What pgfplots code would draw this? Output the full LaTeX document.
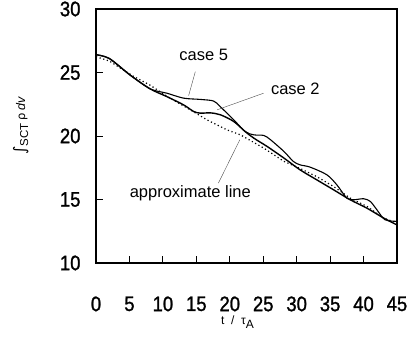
\documentclass[border=0pt]{standalone}
\usepackage{pgfplots}
\pgfplotsset{compat=1.18}
\usepackage{fontspec}
\setmainfont{Liberation Sans}
\newfontfamily\tickfont[FakeStretch=0.88, FakeBold=1.2]{Liberation Sans}
\newfontfamily\dvfont{DejaVu Sans}
\begin{document}
\begin{tikzpicture}
\begin{axis}[
  at={(0,0)}, anchor=south west,
  scale only axis, width=301bp, height=254bp,
  xmin=0, xmax=45, ymin=10, ymax=30,
  xtick={0,5,...,45}, ytick={10,15,...,30},
  xtick pos=bottom, ytick pos=left, tick align=inside,
  major tick length=7bp,
  tick style={line width=0.8pt, black},
  axis line style={line width=1.3pt},
  /pgf/number format/assume math mode=true,
  ticklabel style={font=\tickfont\fontsize{21bp}{21bp}\selectfont},
  xticklabel style={yshift=-30bp},
  yticklabel style={xshift=-12bp},
  xlabel={\fontsize{12bp}{12bp}\selectfont t\ \ /\ \ τ\raisebox{-4bp}{A}},
  xlabel style={at={(axis description cs:0.47,0)}, anchor=north, yshift=-49bp},
  ylabel={{\dvfont\fontsize{16bp}{16bp}\selectfont ∫}\raisebox{-3bp}{\fontsize{11.5bp}{11.5bp}\selectfont SCT}\ {\dvfont\fontsize{11.5bp}{11.5bp}\selectfont ρ}\ {\fontsize{12.5bp}{12.5bp}\selectfont\textit{dv}}},
  ylabel style={at={(axis description cs:0,0.54)}, anchor=south, yshift=64bp},
]
% case 5
\addplot[black, line width=1.1pt, smooth] coordinates {
(0,26.4) (2,26.1) (5.1,24.8) (8.1,23.71) (10.6,23.37) (13.1,22.98) (15.6,22.88) (17.6,22.75) (18.6,22.3) (20.6,21.27) (22.3,20.35) (23.6,20.09) (25.1,20.04) (26.1,19.7) (28.1,18.78) (29.5,18.0) (30.5,17.73) (32.0,17.55) (34.5,16.95) (36.0,16.16) (37.5,15.11) (38.5,14.98) (40.0,15.06) (41.0,14.85) (42.0,14.19) (43.2,13.41) (45,13.28)};
% case 2
\addplot[black, line width=1.4pt, smooth] coordinates {
(0,26.4) (2,26.1) (5.1,24.8) (8.1,23.71) (10.6,23.1) (13.1,22.45) (14.6,21.93) (15.6,21.8) (17.1,21.82) (18.6,21.67) (20.6,21.14) (22.3,20.35) (23.6,19.83) (25.6,19.17) (28.1,18.26) (30.5,17.34) (33.0,16.55) (35.5,15.77) (38.0,14.98) (40.5,14.32) (43.0,13.54) (45,13.0)};
% approximate line
\addplot[black, line width=1.2pt, dash pattern=on 1.2pt off 2.6pt] coordinates {
(0,26.25) (2,25.9) (5.6,24.7) (8.1,24.0) (11,23.0) (14.1,22.06) (16.6,21.27) (19.6,20.48) (21.6,20.09) (25.1,19.04) (28.1,18.0) (30.5,17.45) (33,16.8) (35.5,16.03) (38,15.11) (40.5,14.46) (43,13.54) (45,13.15)};
% annotations
\node[font=\fontsize{16.5bp}{16.5bp}\selectfont] at (axis cs:16.1,26.38) {case 5};
\draw[line width=0.4pt, black!70] (axis cs:14.85,25.07) -- (axis cs:13.85,23.18);
\node[font=\fontsize{16.5bp}{16.5bp}\selectfont] at (axis cs:29.8,23.7) {case 2};
\draw[line width=0.4pt, black!70] (axis cs:25.06,23.37) -- (axis cs:18.1,22.06);
\node[font=\fontsize{16.5bp}{16.5bp}\selectfont] at (axis cs:14.1,15.5) {approximate line};
\draw[line width=0.4pt, black!70] (axis cs:18.3,16.29) -- (axis cs:21.5,19.7);
\end{axis}
\pgfresetboundingbox
\path[use as bounding box] (-96bp,-79bp) rectangle (318bp,263bp);
\end{tikzpicture}
\end{document}
